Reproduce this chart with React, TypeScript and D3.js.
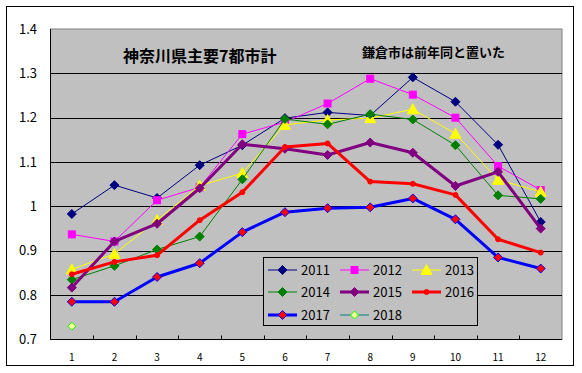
import React from 'react';
import * as d3 from 'd3';

const months = [1, 2, 3, 4, 5, 6, 7, 8, 9, 10, 11, 12];
const yTicks = [0.7, 0.8, 0.9, 1, 1.1, 1.2, 1.3, 1.4];

const v2011 = [0.983, 1.048, 1.019, 1.093, 1.138, 1.199, 1.212, 1.205, 1.291, 1.236, 1.139, 0.965];
const v2012 = [0.937, 0.921, 1.014, 1.043, 1.163, 1.19, 1.232, 1.288, 1.252, 1.2, 1.091, 1.037];
const v2013 = [0.858, 0.893, 0.969, 1.047, 1.075, 1.184, 1.195, 1.199, 1.219, 1.164, 1.06, 1.033];
const v2014 = [0.835, 0.866, 0.903, 0.932, 1.061, 1.197, 1.185, 1.208, 1.196, 1.138, 1.025, 1.017];
const v2015 = [0.817, 0.921, 0.961, 1.041, 1.14, 1.13, 1.116, 1.144, 1.121, 1.046, 1.078, 0.95];
const v2016 = [0.847, 0.875, 0.89, 0.969, 1.032, 1.134, 1.142, 1.056, 1.051, 1.026, 0.926, 0.896];
const v2017 = [0.785, 0.785, 0.841, 0.872, 0.942, 0.987, 0.996, 0.998, 1.018, 0.971, 0.885, 0.86];
const v2018 = [0.73];

type Series = {
  name: string;
  values: number[];
  line: string;
  width: number;
  marker: 'diamond' | 'square' | 'triangle' | 'circle';
  fill: string;
  stroke: string;
  size: number;
};

const series: Series[] = [
  { name: '2011', values: v2011, line: '#000080', width: 1, marker: 'diamond', fill: '#000080', stroke: '#000080', size: 4.5 },
  { name: '2012', values: v2012, line: '#FF00FF', width: 1, marker: 'square', fill: '#FF00FF', stroke: '#FF00FF', size: 3.5 },
  { name: '2013', values: v2013, line: '#FFFF00', width: 1, marker: 'triangle', fill: '#FFFF00', stroke: '#FFFF00', size: 4.5 },
  { name: '2014', values: v2014, line: '#008000', width: 1, marker: 'diamond', fill: '#008000', stroke: '#008000', size: 4.5 },
  { name: '2015', values: v2015, line: '#800080', width: 3, marker: 'diamond', fill: '#800080', stroke: '#800080', size: 4.5 },
  { name: '2016', values: v2016, line: '#FF0000', width: 3, marker: 'circle', fill: '#FF0000', stroke: '#FF0000', size: 2.5 },
  { name: '2017', values: v2017, line: '#0000FF', width: 3, marker: 'diamond', fill: '#FF0000', stroke: '#0000FF', size: 4.5 },
  { name: '2018', values: v2018, line: '#008080', width: 1, marker: 'diamond', fill: '#FFFF99', stroke: '#00FF00', size: 4 },
];

const FONT = '"Noto Sans CJK JP", "DejaVu Sans", sans-serif';

function Marker({ s, x, y }: { s: Series; x: number; y: number }) {
  const r = s.size;
  if (s.marker === 'square') {
    return <rect x={x - r} y={y - r} width={r * 2} height={r * 2} fill={s.fill} stroke={s.stroke} strokeWidth={1} />;
  }
  if (s.marker === 'triangle') {
    return <path d={`M${x},${y - r - 1}L${x + r + 1},${y + r}L${x - r - 1},${y + r}Z`} fill={s.fill} stroke={s.stroke} strokeWidth={1} />;
  }
  if (s.marker === 'circle') {
    return <circle cx={x} cy={y} r={r} fill={s.fill} stroke={s.stroke} strokeWidth={1} />;
  }
  return <path d={`M${x},${y - r}L${x + r},${y}L${x},${y + r}L${x - r},${y}Z`} fill={s.fill} stroke={s.stroke} strokeWidth={1} />;
}

export default function App() {
  const width = 582;
  const height = 373;
  const left = 50.5;
  const right = 562;
  const top = 29;
  const bottom = 339.5;

  const x = d3.scaleBand<number>().domain(months).range([left, right]);
  const cx = (m: number) => (x(m) as number) + x.bandwidth() / 2;
  const y = d3.scaleLinear().domain([0.7, 1.4]).range([bottom, top]);

  const lineGen = d3
    .line<number>()
    .x((_, i) => cx(months[i]))
    .y((d) => y(d));

  const legendCols = [268, 340, 412];
  const legendRows = [270, 292, 315];

  return (
    <svg width={width} height={height} style={{ position: 'absolute', left: 0, top: 0 }}>
      <rect x={0} y={0} width={width} height={height} fill="#fff" />
      <rect x={6.5} y={6.5} width={567} height={359} fill="#fff" stroke="#000" strokeWidth={1} />
      <rect x={left} y={top} width={right - left} height={bottom - top} fill="#C0C0C0" stroke="#808080" strokeWidth={1} />

      {yTicks.slice(1, -1).map((t) => (
        <line key={t} x1={left} x2={right} y1={Math.round(y(t)) + 0.5} y2={Math.round(y(t)) + 0.5} stroke="#000" strokeWidth={1} />
      ))}
      <line x1={left} x2={left} y1={top} y2={bottom} stroke="#000" />
      <line x1={left} x2={right} y1={bottom} y2={bottom} stroke="#000" />
      {months.slice(1).map((m) => (
        <line key={m} x1={Math.round(x(m) as number) + 0.5} x2={Math.round(x(m) as number) + 0.5} y1={bottom - 4} y2={bottom} stroke="#000" />
      ))}
      {yTicks.map((t) => (
        <text key={t} x={37} y={y(t)} dy="0.35em" textAnchor="end" fontFamily={FONT} fontSize={13} fill="#000">
          {d3.format('')(t)}
        </text>
      ))}
      {months.map((m) => (
        <text key={m} x={cx(m)} y={357} dy="0.35em" textAnchor="middle" fontFamily={FONT} fontSize={10} fill="#000">
          {m}
        </text>
      ))}

      <text x={123} y={56} dy="0.35em" fontFamily={FONT} fontSize={16} fontWeight="bold" fill="#000">
        神奈川県主要7都市計
      </text>
      <text x={362} y={52} dy="0.35em" fontFamily={FONT} fontSize={13} fontWeight="bold" fill="#000">
        鎌倉市は前年同と置いた
      </text>

      {series.map((s) => (
        <g key={s.name}>
          {s.values.length > 1 && (
            <path d={lineGen(s.values) || ''} fill="none" stroke={s.line} strokeWidth={s.width} strokeLinejoin="round" />
          )}
          {s.values.map((v, i) => (
            <Marker key={i} s={s} x={cx(months[i])} y={y(v)} />
          ))}
        </g>
      ))}

      <rect x={263.5} y={257.5} width={214} height={68} fill="#C0C0C0" stroke="#000" strokeWidth={1} />
      {series.map((s, i) => {
        const lx = legendCols[i % 3];
        const ly = legendRows[Math.floor(i / 3)];
        return (
          <g key={s.name}>
            <line x1={lx} x2={lx + 29} y1={ly} y2={ly} stroke={s.line} strokeWidth={s.width} />
            <Marker s={s} x={lx + 14.5} y={ly} />
            <text x={lx + 33} y={ly} dy="0.35em" fontFamily={FONT} fontSize={13} fill="#000">
              {s.name}
            </text>
          </g>
        );
      })}
    </svg>
  );
}
